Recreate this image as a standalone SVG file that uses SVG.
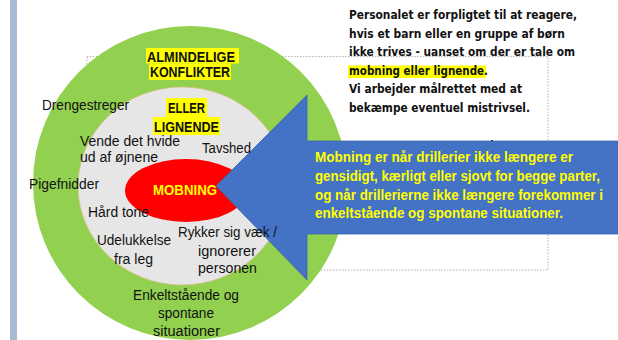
<svg xmlns="http://www.w3.org/2000/svg" width="618" height="340" viewBox="0 0 618 340">
<style>
.lbl{font-family:"Liberation Sans",Arial,sans-serif;font-size:14px;fill:#111}
.bold{font-weight:bold}
.hl{fill:#ffff00}
.info{font-family:"DejaVu Sans","Liberation Sans",sans-serif;font-size:12px;font-weight:bold;fill:#111}
.arrowtxt{font-family:"Liberation Sans",Arial,sans-serif;font-size:14px;font-weight:bold;fill:#ffff00}
</style>
<rect width="618" height="340" fill="#ffffff"/>
<rect id="sidebar" x="10" y="0" width="7" height="340" fill="#a7bcd3"/>
<rect id="frame" x="87" y="56.5" width="461" height="213.5" fill="none" stroke="#a0a0a0" stroke-width="0.8" stroke-dasharray="1.5,1.5"/>
<g id="info-text">
<rect class="hl" x="348" y="65.5" width="138" height="12.5"/>
<text class="info" x="349" y="19" textLength="228" lengthAdjust="spacingAndGlyphs">Personalet er forpligtet til at reagere,</text>
<text class="info" x="349" y="37.5" textLength="216" lengthAdjust="spacingAndGlyphs">hvis et barn eller en gruppe af børn</text>
<text class="info" x="349" y="56" textLength="226" lengthAdjust="spacingAndGlyphs">ikke trives - uanset om der er tale om</text>
<text class="info" x="349" y="74.5" textLength="139" lengthAdjust="spacingAndGlyphs">mobning eller lignende.</text>
<text class="info" x="349" y="93" textLength="173" lengthAdjust="spacingAndGlyphs">Vi arbejder målrettet med at</text>
<text class="info" x="349" y="111.5" textLength="181" lengthAdjust="spacingAndGlyphs">bekæmpe eventuel mistrivsel.</text>
<rect x="491" y="140" width="2" height="2" fill="#111"/>
</g>
<g id="outer-ring">
<circle cx="190" cy="183" r="157" fill="#92d050"/>
</g>
<g id="inner-ring">
<ellipse cx="182" cy="186" rx="104" ry="99" fill="#e6e6e6" stroke="#dcc08a" stroke-width="0.8"/>
</g>
<g id="core">
<ellipse cx="186" cy="190.5" rx="61" ry="31.5" fill="#ff0000"/>
</g>
<g id="definition-arrow">
<polygon points="216,186 307,95 307,141 618,141 618,234 307,234 307,280" fill="#4472c4" stroke="#3d65ad" stroke-width="0.8"/>
<text class="arrowtxt" x="315" y="162" textLength="258" lengthAdjust="spacingAndGlyphs">Mobning er når drillerier ikke længere er</text>
<text class="arrowtxt" x="315" y="181" textLength="285" lengthAdjust="spacingAndGlyphs">gensidigt, kærligt eller sjovt for begge parter,</text>
<text class="arrowtxt" x="315" y="199.5" textLength="288" lengthAdjust="spacingAndGlyphs">og når drillerierne ikke længere forekommer i</text>
<text class="arrowtxt" x="315" y="218" textLength="248" lengthAdjust="spacingAndGlyphs">enkeltstående og spontane situationer.</text>
</g>
<g id="outer-labels">
<rect class="hl" x="146" y="48" width="93" height="15.5"/>
<rect class="hl" x="149" y="63.5" width="82" height="16.5"/>
<text class="lbl bold" x="147" y="62" textLength="88" lengthAdjust="spacingAndGlyphs">ALMINDELIGE</text>
<text class="lbl bold" x="150" y="77" textLength="80" lengthAdjust="spacingAndGlyphs">KONFLIKTER</text>
<text class="lbl" x="42" y="110" textLength="87" lengthAdjust="spacingAndGlyphs">Drengestreger</text>
<text class="lbl" x="29" y="189" textLength="70" lengthAdjust="spacingAndGlyphs">Pigefnidder</text>
<text class="lbl" x="133" y="300" textLength="106" lengthAdjust="spacingAndGlyphs">Enkeltstående og</text>
<text class="lbl" x="158" y="318" textLength="56" lengthAdjust="spacingAndGlyphs">spontane</text>
<text class="lbl" x="153" y="336" textLength="67" lengthAdjust="spacingAndGlyphs">situationer</text>
</g>
<g id="inner-labels">
<rect class="hl" x="166" y="98" width="41" height="19"/>
<rect class="hl" x="153" y="117" width="67" height="18"/>
<text class="lbl bold" x="168" y="113" textLength="37" lengthAdjust="spacingAndGlyphs">ELLER</text>
<text class="lbl bold" x="154" y="132" textLength="65" lengthAdjust="spacingAndGlyphs">LIGNENDE</text>
<text class="lbl" x="80" y="146" textLength="100" lengthAdjust="spacingAndGlyphs">Vende det hvide</text>
<text class="lbl" x="80" y="162" textLength="78" lengthAdjust="spacingAndGlyphs">ud af øjnene</text>
<text class="lbl" x="202" y="153" textLength="49" lengthAdjust="spacingAndGlyphs">Tavshed</text>
<text class="lbl" x="88" y="217" textLength="61" lengthAdjust="spacingAndGlyphs">Hård tone</text>
<text class="lbl" x="97" y="245" textLength="74" lengthAdjust="spacingAndGlyphs">Udelukkelse</text>
<text class="lbl" x="114" y="264" textLength="39" lengthAdjust="spacingAndGlyphs">fra leg</text>
<text class="lbl" x="178" y="237" textLength="99" lengthAdjust="spacingAndGlyphs">Rykker sig væk /</text>
<text class="lbl" x="198" y="256" textLength="58" lengthAdjust="spacingAndGlyphs">ignorerer</text>
<text class="lbl" x="198" y="273" textLength="59" lengthAdjust="spacingAndGlyphs">personen</text>
</g>
<g id="core-label">
<text class="lbl bold" x="153" y="195" textLength="64" lengthAdjust="spacingAndGlyphs" style="fill:#ffff00">MOBNING</text>
</g>
</svg>
